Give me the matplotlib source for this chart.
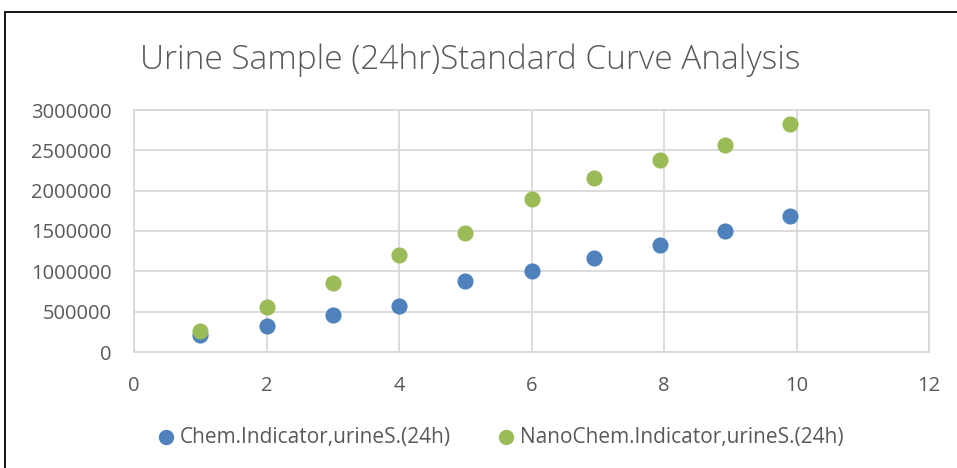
import matplotlib.pyplot as plt
from matplotlib.patches import Rectangle

x_vals = [1, 2, 3, 4, 5, 6, 6.95, 7.94, 8.92, 9.9]
chem = [207000, 322000, 462000, 566000, 884000, 1004000, 1165000, 1322000, 1504000, 1686000]
nano = [264000, 558000, 860000, 1202000, 1479000, 1901000, 2161000, 2380000, 2562000, 2823000]
series_names = ['Chem.Indicator,urineS.(24h)', 'NanoChem.Indicator,urineS.(24h)']
colors = ['#4F81BD', '#9BBB59']

plt.rcParams['font.family'] = ['Open Sans', 'DejaVu Sans']
text_color = '#595959'
grid_color = '#D9D9D9'

fig = plt.figure(figsize=(9.57, 4.68), dpi=100)
ax = fig.add_axes([134 / 957, 1 - 352 / 468, (929 - 134) / 957, (352 - 110) / 468])

for vals, name, c in zip([chem, nano], series_names, colors):
    ax.scatter(x_vals, vals, s=135, color=c, label=name, zorder=3, linewidths=0)

ax.set_xlim(0, 12)
ax.set_ylim(0, 3000000)
ax.set_xticks(range(0, 13, 2))
ax.set_yticks(range(0, 3000001, 500000))
ax.set_yticklabels([str(v) for v in range(0, 3000001, 500000)])
ax.grid(True, color=grid_color, linewidth=1.3, zorder=0)
for s in ax.spines.values():
    s.set_color(grid_color)
    s.set_linewidth(1.3)
ax.tick_params(colors=text_color, labelsize=14.5, length=0)
ax.tick_params(axis='y', pad=16)
ax.tick_params(axis='x', pad=17)

fig.text(470 / 957, 1 - 60 / 468, 'Urine Sample (24hr)Standard Curve Analysis',
         ha='center', va='center', fontsize=24, color=text_color, fontweight='light')

leg = fig.legend(loc='center', bbox_to_anchor=(501 / 957, 1 - 437 / 468), ncol=2,
                 frameon=False, fontsize=15, handlelength=0.7, handletextpad=0.3,
                 columnspacing=2.3, markerscale=0.95)
for t in leg.get_texts():
    t.set_color(text_color)

fig.patches.append(Rectangle((5 / 957, -0.01), 1.0, 1 - 12 / 468 + 0.01, transform=fig.transFigure,
                             fill=False, edgecolor='black', linewidth=1.3))

fig.savefig('out.png', dpi=100)
